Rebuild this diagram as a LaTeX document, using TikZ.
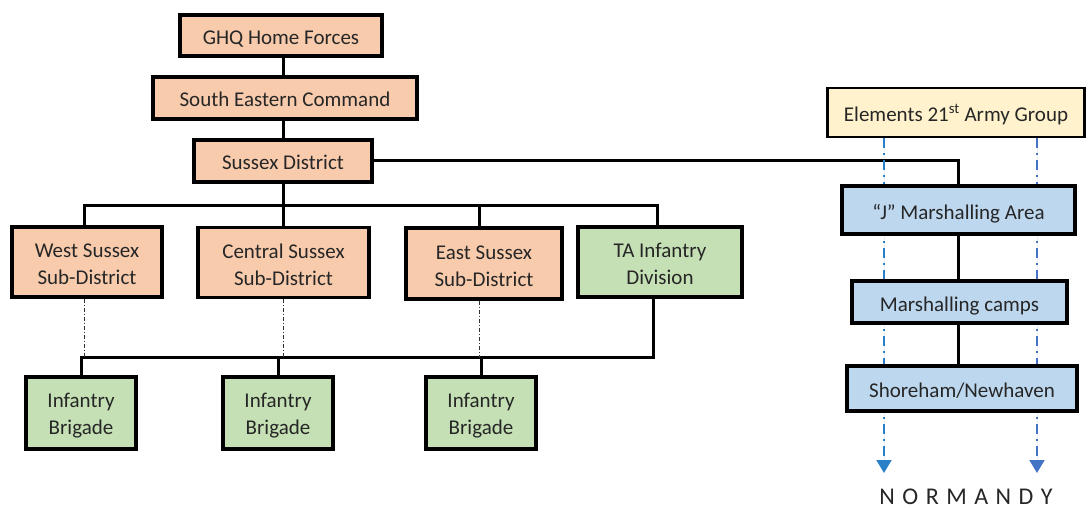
\documentclass[tikz,border=0pt]{standalone}
\usepackage{fontspec}
\setmainfont{Carlito}
\usetikzlibrary{arrows.meta,backgrounds}
\definecolor{salmon}{HTML}{F8CBAD}
\definecolor{lgreen}{HTML}{C5E0B4}
\definecolor{lblue}{HTML}{BDD7EE}
\definecolor{lyellow}{HTML}{FFF2CC}
\definecolor{txt}{HTML}{262626}
\definecolor{blueA}{HTML}{2A7FC9}
\definecolor{blueB}{HTML}{4472C4}
\tikzset{
  box/.style={draw=black, line width=3.2pt, align=center, text=txt, inner sep=0pt,
    font=\fontsize{21}{27}\selectfont},
  one/.style={text height=18pt, text depth=0pt},
  orgbox/.style={box, fill=salmon},
  grnbox/.style={box, fill=lgreen},
  blubox/.style={box, fill=lblue},
  yelbox/.style={box, fill=lyellow, line width=2.6pt},
  conn/.style={draw=black, line width=3pt},
  ddash/.style={draw=black!80, line width=1pt, dash pattern=on 4pt off 2pt on 1pt off 2pt},
  bdash/.style={line width=2pt, dash pattern=on 10pt off 5pt on 2pt off 5pt,
    -{Triangle[width=15pt,length=13pt]}},
}
\begin{document}
\begin{tikzpicture}[x=1pt,y=-1pt]
\useasboundingbox (0,0) rectangle (1090,508);
% nodes
\node[orgbox, one, minimum width=202pt, minimum height=41pt] (ghq) at (281,35.5) {GHQ Home Forces};
\node[orgbox, one, minimum width=264pt, minimum height=42pt] (sec) at (285,98) {South Eastern Command};
\node[orgbox, one, minimum width=178pt, minimum height=42pt] (sd) at (283,161) {Sussex District};
\node[orgbox, minimum width=150pt, minimum height=70pt] (ws) at (87,262) {\strut West Sussex\\Sub-District};
\node[orgbox, minimum width=171pt, minimum height=70pt] (cs) at (283.5,262.5) {\strut Central Sussex\\Sub-District};
\node[orgbox, minimum width=156pt, minimum height=71pt] (es) at (484,263.5) {\strut East Sussex\\Sub-District};
\node[grnbox, minimum width=164pt, minimum height=70pt] (ta) at (660,262) {\strut TA Infantry\\Division};
\node[grnbox, minimum width=110pt, minimum height=72pt] (b1) at (81,413) {\strut Infantry\\Brigade};
\node[grnbox, minimum width=110pt, minimum height=72pt] (b2) at (278,413) {\strut Infantry\\Brigade};
\node[grnbox, minimum width=110pt, minimum height=72pt] (b3) at (481,413) {\strut Infantry\\Brigade};
\node[yelbox, one, minimum width=257pt, minimum height=49pt] (elem) at (956,112.5) {Elements 21\textsuperscript{st} Army Group};
\node[blubox, one, minimum width=233pt, minimum height=48pt] (jma) at (958.5,210) {“J” Marshalling Area};
\node[blubox, one, minimum width=215pt, minimum height=42pt] (mc) at (959.5,302) {Marshalling camps};
\node[blubox, one, minimum width=230pt, minimum height=45pt] (sn) at (962,388.5) {Shoreham/Newhaven};
\node[text=txt, font=\fontsize{24}{28}\selectfont, anchor=base, inner sep=0pt] (norm) at (966,504)
  {N\kern7.5pt O\kern7.5pt R\kern7.5pt M\kern7.5pt A\kern7.5pt N\kern7.5pt D\kern7.5pt Y};
\coordinate (la) at (884,473);
\coordinate (ra) at (1037,473);
\coordinate (top) at (283,205);
\coordinate (bot) at (283,357.5);
% connectors
\begin{scope}[on background layer]
\draw[conn] (ghq.south -| top) -- (sec.north -| top);
\draw[conn] (sec.south -| top) -- (sd.north -| top);
\draw[conn] (sd.south -| top) -- (top);
\draw[conn] (ws.north -| 84,0) |- (top) -| (ta.north -| 657,0);
\draw[conn] (top) -- (cs.north -| top);
\draw[conn] (top -| 479,0) -- (es.north -| 479,0);
\draw[conn] (b1.north) |- (bot) -| (ta.south -| 653,0);
\draw[conn] (bot -| b2.north) -- (b2.north);
\draw[conn] (bot -| b3.north) -- (b3.north);
\draw[ddash] (ws.south -| 84,0) -- (bot -| 84,0);
\draw[ddash] (cs.south -| bot) -- (bot);
\draw[ddash] (es.south -| 479,0) -- (bot -| 479,0);
\draw[conn] (sd.east) -- (sd.east -| jma.north) -- (jma.north);
\draw[conn] (jma.south) -- (jma.south |- mc.north);
\draw[conn] (mc.south -| jma.south) -- (sn.north -| jma.south);
\draw[bdash, draw=blueA, fill=blueA] (elem.south -| la) -- (la);
\draw[bdash, draw=blueB, fill=blueB] (elem.south -| ra) -- (ra);
\end{scope}
\end{tikzpicture}
\end{document}
